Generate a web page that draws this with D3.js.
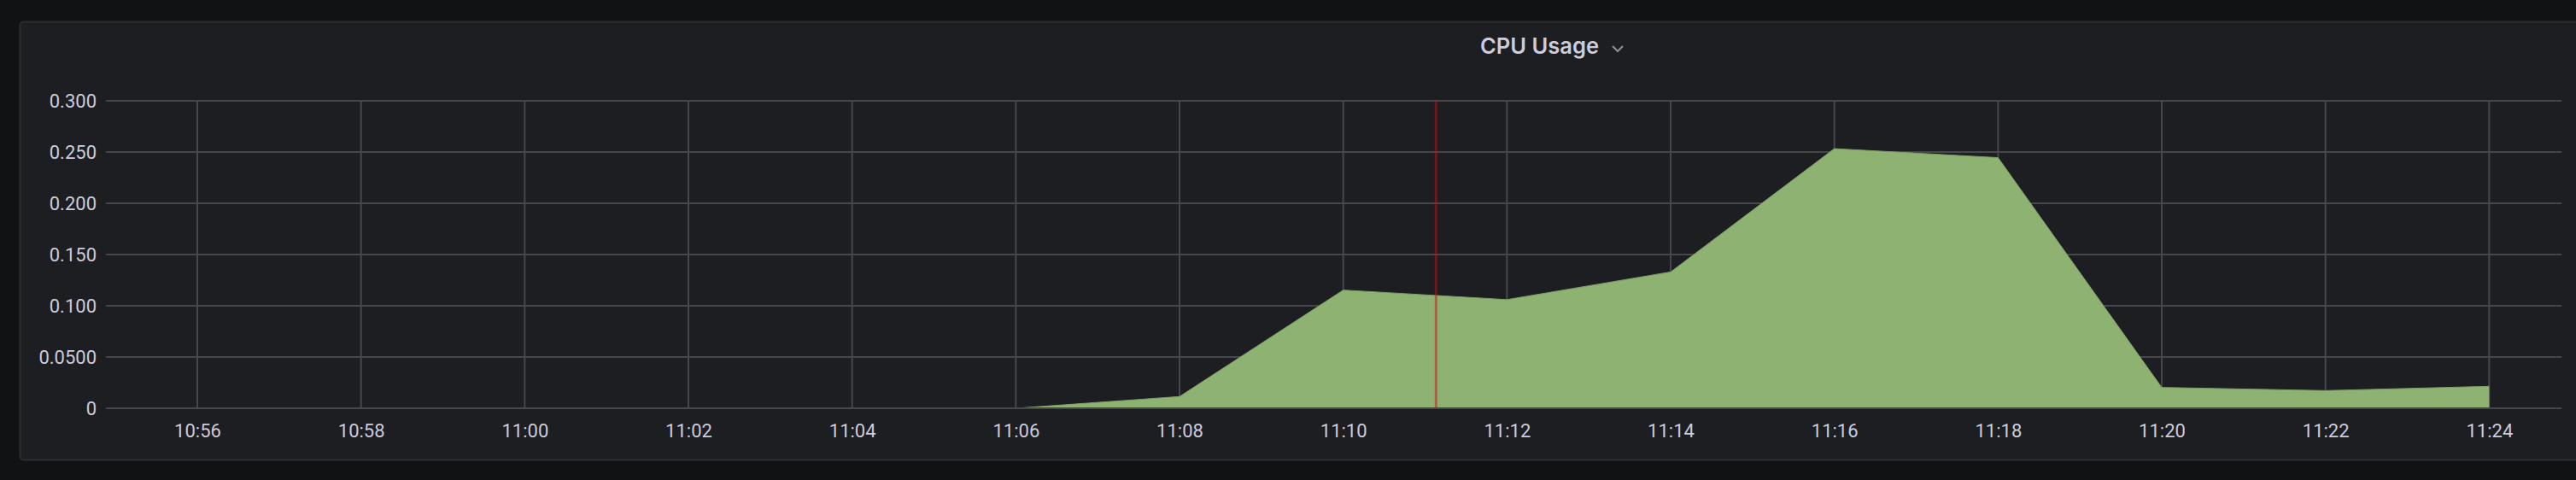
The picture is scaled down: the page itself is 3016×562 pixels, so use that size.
<!DOCTYPE html>
<html>
<head>
<meta charset="utf-8">
<script src="https://cdn.jsdelivr.net/npm/d3@7"></script>
<style>
  html, body { margin: 0; padding: 0; background: #111214; }
  svg { display: block; }
</style>
</head>
<body>
<svg id="chart" width="3016" height="562"></svg>
<script>
// ---- data ----
const title = "CPU Usage";
const times = ["11:06", "11:08", "11:10", "11:12", "11:14", "11:16", "11:18", "11:20", "11:22", "11:24"];
const cpuValues = [0, 0.0114, 0.1153, 0.106, 0.133, 0.2533, 0.2445, 0.0203, 0.0172, 0.0214];
const xTickLabels = ["10:56", "10:58", "11:00", "11:02", "11:04", "11:06", "11:08", "11:10", "11:12", "11:14", "11:16", "11:18", "11:20", "11:22", "11:24"];
const yTickValues = [0, 0.05, 0.1, 0.15, 0.2, 0.25, 0.3];
const yTickLabels = ["0", "0.0500", "0.100", "0.150", "0.200", "0.250", "0.300"];
const rangeStart = "10:54:53";
const rangeEnd = "11:24:53";
const markerTime = "11:11:08";

// ---- helpers ----
const parseHM = d3.timeParse("%H:%M");
const parseHMS = d3.timeParse("%H:%M:%S");

const svg = d3.select("#chart");
const W = 3016, H = 562;

// panel
svg.append("rect").attr("x", 0).attr("y", 0).attr("width", W).attr("height", H).attr("fill", "#111214");
svg.append("rect")
  .attr("x", 23.5).attr("y", 25.5).attr("width", 3100).attr("height", 513)
  .attr("rx", 4).attr("fill", "#1d1e21").attr("stroke", "#2b2c30").attr("stroke-width", 2);

const plot = { left: 124, right: 2999, top: 118, bottom: 478 };

const x = d3.scaleTime()
  .domain([parseHMS(rangeStart), parseHMS(rangeEnd)])
  .range([plot.left, plot.right]);
const y = d3.scaleLinear().domain([0, 0.3]).range([plot.bottom, plot.top]);

// grid
const gridColor = "#46474b";
const xTicks = xTickLabels.map(parseHM);

svg.append("g").selectAll("line").data(yTickValues.filter(d => d !== 0)).join("line")
  .attr("x1", plot.left).attr("x2", plot.right)
  .attr("y1", d => y(d)).attr("y2", d => y(d))
  .attr("stroke", gridColor).attr("stroke-width", 2);

svg.append("g").selectAll("line").data(xTicks).join("line")
  .attr("x1", d => x(d)).attr("x2", d => x(d))
  .attr("y1", plot.top - 1).attr("y2", plot.bottom)
  .attr("stroke", gridColor).attr("stroke-width", 2);

// area
const data = times.map((t, i) => ({ t: parseHM(t), v: cpuValues[i] }));
const area = d3.area().x(d => x(d.t)).y0(y(0)).y1(d => y(d.v));
svg.append("path").datum(data).attr("d", area).attr("fill", "#8db271");
const line = d3.line().x(d => x(d.t)).y(d => y(d.v));
svg.append("path").datum(data).attr("d", line).attr("fill", "none")
  .attr("stroke", "#7f9f66").attr("stroke-width", 1);

// zero baseline on top of area
svg.append("line").attr("x1", plot.left).attr("x2", plot.right)
  .attr("y1", y(0)).attr("y2", y(0))
  .attr("stroke", gridColor).attr("stroke-width", 2);

// marker
const mx = x(parseHMS(markerTime));
svg.append("line").attr("x1", mx).attr("x2", mx).attr("y1", plot.top).attr("y2", plot.bottom - 1)
  .attr("stroke", "rgba(190,20,20,0.5)").attr("stroke-width", 3);

// y axis labels
const yAxis = d3.axisLeft(y).tickValues(yTickValues)
  .tickFormat((d, i) => yTickLabels[i]).tickSize(0).tickPadding(11);
const gy = svg.append("g").attr("transform", `translate(${plot.left},0)`).call(yAxis);
gy.select(".domain").remove();
gy.selectAll("text").attr("fill", "#ccccdc").attr("font-family", "Roboto, sans-serif").attr("font-size", 22);

// x axis labels
const xAxis = d3.axisBottom(x).tickValues(xTicks)
  .tickFormat((d, i) => xTickLabels[i]).tickSize(0).tickPadding(18);
const gx = svg.append("g").attr("transform", `translate(0,${plot.bottom})`).call(xAxis);
gx.select(".domain").remove();
gx.selectAll("text").attr("fill", "#ccccdc").attr("font-family", "Roboto, sans-serif").attr("font-size", 22);

// title
svg.append("text").attr("x", 1733).attr("y", 63).attr("text-anchor", "start")
  .attr("fill", "#ccccdc").attr("font-family", "Inter, sans-serif").attr("font-weight", 600)
  .attr("font-size", 26).attr("textLength", 139).attr("lengthAdjust", "spacingAndGlyphs").text(title);
// chevron
svg.append("path").attr("d", "M1888,54 L1894,60 L1900,54")
  .attr("fill", "none").attr("stroke", "#8e8e98").attr("stroke-width", 2.2);
</script>
</body>
</html>
